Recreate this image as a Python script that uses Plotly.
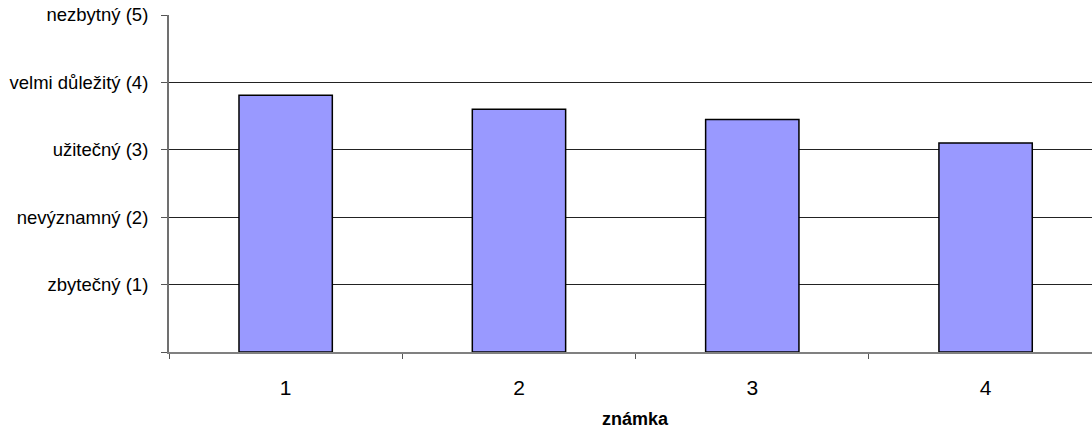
import plotly.graph_objects as go

categories = ["1", "2", "3", "4"]
values = [3.81, 3.60, 3.45, 3.10]
y_tickvals = [0, 1, 2, 3, 4, 5]
y_ticktext = ["", "zbytečný (1)", "nevýznamný (2)", "užitečný (3)", "velmi důležitý (4)", "nezbytný (5)"]
x_title = "známka"

fig = go.Figure()
fig.add_trace(go.Bar(
    x=categories, y=values, width=0.4,
    marker=dict(color="#9999FF", line=dict(color="#000000", width=1.5)),
))

fig.update_layout(
    width=1092, height=429,
    margin=dict(l=169, r=0, t=15, b=77),
    plot_bgcolor="white", paper_bgcolor="white",
    font=dict(family="Liberation Sans, Arial", color="#000000"),
    showlegend=False,
)
fig.update_xaxes(
    type="category", range=[-0.5, 3.456],
    showline=True, linecolor="#808080", linewidth=1.5,
    ticks="outside", tickson="boundaries", ticklen=5, tickcolor="#555555",
    tickfont=dict(size=21), ticklabelstandoff=16,
    showgrid=False, zeroline=False,
)
fig.update_yaxes(
    range=[0, 5], tickvals=y_tickvals, ticktext=y_ticktext,
    showline=True, linecolor="#707070", linewidth=2,
    ticks="outside", ticklen=6, tickcolor="#555555",
    tickfont=dict(size=18.5), ticklabelstandoff=9,
    showgrid=True, gridcolor="#222222", gridwidth=1,
    zeroline=False,
)
fig.add_annotation(
    x=1.5, xref="x", y=-(428.5 - 352) / 337, yref="paper", yanchor="bottom",
    height=15, valign="middle",
    text="<b>" + x_title + "</b>", showarrow=False, font=dict(size=18),
)

fig.write_html("out.html", config={"displayModeBar": False},
               post_script="document.body.style.margin='0';")
